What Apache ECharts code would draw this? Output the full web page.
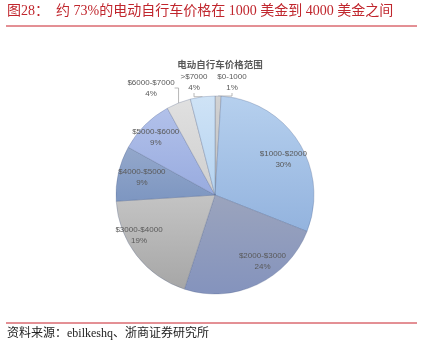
<!DOCTYPE html>
<html>
<head>
<meta charset="utf-8">
<script src="https://cdn.jsdelivr.net/npm/echarts@6/dist/echarts.min.js"></script>
<style>
  html, body { margin: 0; padding: 0; background: #fff; }
  #chart { width: 421px; height: 352px; }
</style>
</head>
<body>
<div id="chart"></div>
<script>
// price ranges, clockwise from 12 o'clock
const categories = ['$0-1000', '$1000-$2000', '$2000-$3000', '$3000-$4000', '$4000-$5000', '$5000-$6000', '$6000-$7000', '>$7000'];
const shares = [1, 30, 24, 19, 9, 9, 4, 4];
// which slices get their label outside with a leader line
const outsideLabels = ['$0-1000', '$6000-$7000', '>$7000'];

const titleText = '图28：  约 73%的电动自行车价格在 1000 美金到 4000 美金之间';
const chartTitle = '电动自行车价格范围';
const sourceText = '资料来源：ebilkeshq、浙商证券研究所';

// slice colours (top -> bottom gradient, excel-ish shading)
const sliceColors = [
  ['#d2d2d2', '#bfbfbf'],
  ['#b6d0ee', '#93b3de'],
  ['#9ba4bd', '#8493bd'],
  ['#c4c4c4', '#a6a6a6'],
  ['#94a8cb', '#7d96c1'],
  ['#b2c1ea', '#98abdf'],
  ['#e0e0e0', '#cfcfcf'],
  ['#cfe3f6', '#b5d3f0']
];

const grad = (c) => new echarts.graphic.LinearGradient(0, 0, 0, 1, [
  { offset: 0, color: c[0] }, { offset: 1, color: c[1] }
]);

const labelFont = { color: '#595959', fontSize: 8, fontFamily: 'Liberation Sans, Arial, sans-serif', lineHeight: 11 };

// where the small outside labels sit (text centre)
const outsidePos = { '$6000-$7000': [151, 88], '>$7000': [194, 82], '$0-1000': [232, 82] };
// small nudges for inside labels
const insideNudge = { '$1000-$2000': [0, 8], '$2000-$3000': [13, -7], '$3000-$4000': [-12, -9], '$4000-$5000': [6, 0], '$5000-$6000': [-2, 0] };

const chart = echarts.init(document.getElementById('chart'));

chart.setOption({
  animation: false,
  title: {
    text: chartTitle,
    left: 215, top: 55, textAlign: 'center',
    textStyle: { fontSize: 9.5, fontWeight: 'bold', color: '#595959', fontFamily: 'Noto Sans CJK SC' }
  },
  graphic: [
    { type: 'text', left: 7, top: 4, style: { text: titleText, fill: '#c0262d', font: '14px "Liberation Serif", "Noto Sans CJK SC"' } },
    { type: 'line', shape: { x1: 6, y1: 26, x2: 417, y2: 26 }, style: { stroke: '#c8202a', lineWidth: 1 } },
    { type: 'line', shape: { x1: 6, y1: 323, x2: 417, y2: 323 }, style: { stroke: '#c8202a', lineWidth: 1 } },
    { type: 'text', left: 7, top: 328, style: { text: sourceText, fill: '#222', font: '12px "Liberation Serif", "Noto Sans CJK SC"' } }
  ],
  series: [
    {
      type: 'pie',
      center: [215, 195],
      radius: 99,
      silent: true,
      itemStyle: { borderColor: 'rgba(70,90,130,0.45)', borderWidth: 0.6 },
      label: { show: false },
      labelLine: { show: false },
      data: categories.map((name, i) => {
        const out = outsideLabels.includes(name);
        return {
          name, value: shares[i],
          itemStyle: { color: grad(sliceColors[i]) },
          label: out ? Object.assign({ show: true, position: 'outside', formatter: '{b}\n{d}%', align: 'center' }, labelFont) : { show: false },
          labelLine: out ? { show: true, length: 6, length2: 4, lineStyle: { color: '#a6a6a6', width: 0.8 } } : { show: false }
        };
      }),
      labelLayout: (p) => {
        const pos = outsidePos[categories[p.dataIndex]];
        if (!pos) return {};
        return { x: pos[0], y: pos[1], align: 'center', verticalAlign: 'middle' };
      }
    },
    {
      // invisible copy, only used to place the inside labels further out
      type: 'pie',
      center: [215, 195],
      radius: 156,
      silent: true,
      z: 3,
      itemStyle: { color: 'rgba(0,0,0,0)', borderWidth: 0 },
      label: Object.assign({ show: true, position: 'inside', formatter: '{b}\n{d}%' }, labelFont),
      labelLine: { show: false },
      data: categories.map((name, i) => ({
        name, value: shares[i],
        label: outsideLabels.includes(name) ? { show: false } : {}
      })),
      labelLayout: (p) => {
        const n = insideNudge[categories[p.dataIndex]];
        return n ? { dx: n[0], dy: n[1] } : {};
      }
    }
  ]
});
</script>
</body>
</html>
